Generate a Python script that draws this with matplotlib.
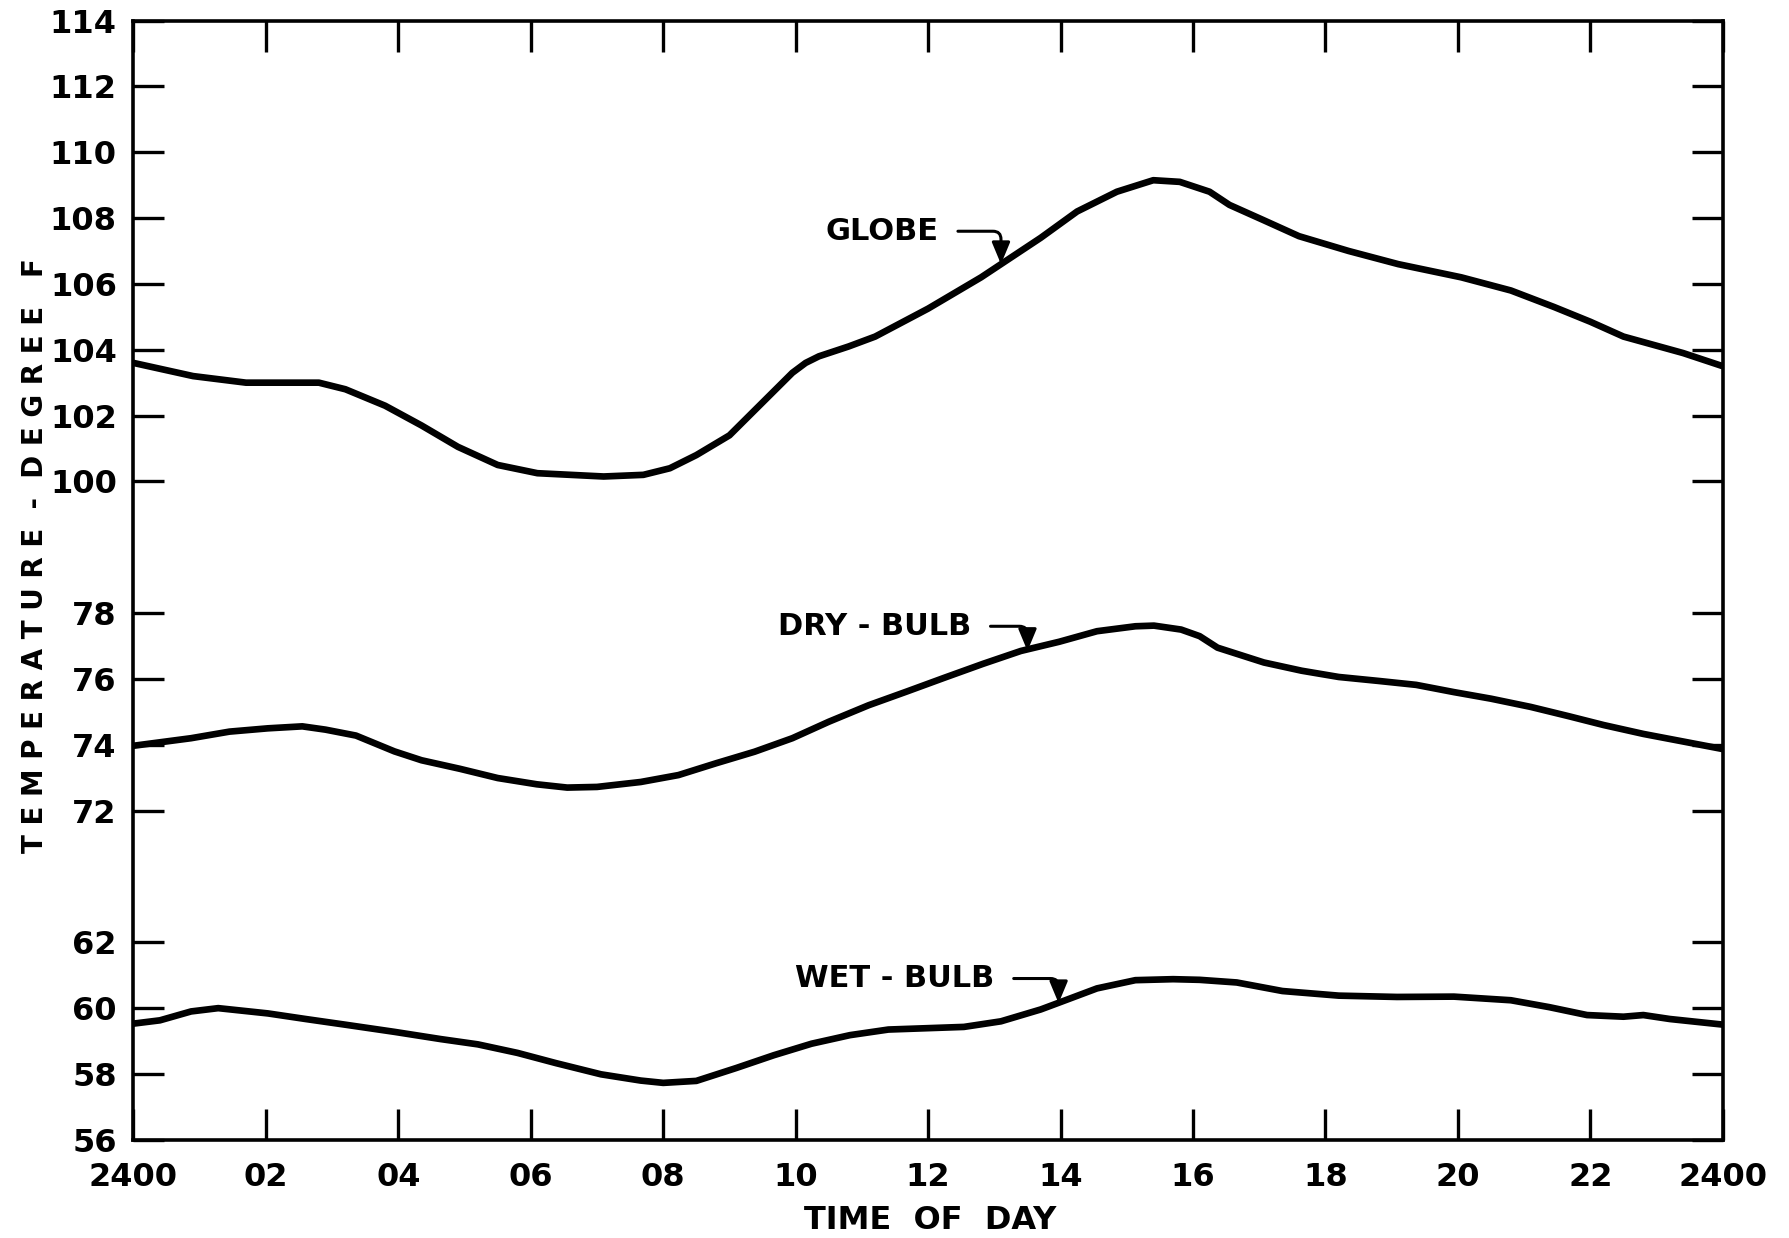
import numpy as np
import matplotlib
matplotlib.use("Agg")
import matplotlib.pyplot as plt

# values (hour of day, degree F)
globe_hr = [0, 0.9, 1.7, 2.8, 3.2, 3.8, 4.35, 4.9, 5.5, 6.1, 7.1, 7.7, 8.1, 8.5, 9.0, 9.25,
            9.5, 9.75, 9.95, 10.15, 10.35, 10.8, 11.2, 12.0, 12.8, 13.1, 13.7, 14.25, 14.85,
            15.4, 15.8, 16.25, 16.55, 17.05, 17.6, 18.35, 19.1, 20.05, 20.8, 21.45, 22.0,
            22.5, 23.4, 24.0]
globe_t = [103.6, 103.2, 103.0, 103.0, 102.8, 102.3, 101.7, 101.05, 100.5, 100.25, 100.15,
           100.2, 100.4, 100.8, 101.4, 101.9, 102.4, 102.9, 103.3, 103.6, 103.8, 104.1, 104.4,
           105.25, 106.2, 106.6, 107.4, 108.2, 108.8, 109.15, 109.1, 108.8, 108.4, 107.95,
           107.45, 107.0, 106.6, 106.2, 105.8, 105.3, 104.85, 104.4, 103.9, 103.5]

dry_hr = [0, 0.87, 1.45, 2.03, 2.55, 2.9, 3.36, 3.94, 4.35, 4.93, 5.5, 6.09, 6.55, 7.0,
          7.66, 8.23, 8.8, 9.38, 9.95, 10.5, 11.1, 11.68, 12.25, 12.83, 13.4, 13.98, 14.55,
          15.13, 15.41, 15.82, 16.1, 16.37, 17.07, 17.64, 18.2, 18.8, 19.37, 19.94, 20.5,
          21.1, 21.67, 22.2, 22.8, 23.4, 24.0]
dry_t = [73.97, 74.2, 74.4, 74.5, 74.56, 74.46, 74.28, 73.8, 73.53, 73.27, 72.99, 72.8,
         72.7, 72.72, 72.87, 73.08, 73.44, 73.79, 74.2, 74.7, 75.2, 75.62, 76.04, 76.46,
         76.85, 77.13, 77.45, 77.6, 77.62, 77.5, 77.3, 76.95, 76.5, 76.25, 76.06, 75.94,
         75.82, 75.6, 75.4, 75.15, 74.87, 74.6, 74.33, 74.1, 73.87]

wet_hr = [0, 0.4, 0.87, 1.28, 2.03, 2.6, 3.19, 3.94, 4.64, 5.2, 5.8, 6.38, 7.06, 7.66, 8.0,
          8.5, 9.1, 9.67, 10.24, 10.82, 11.4, 11.97, 12.54, 13.1, 13.7, 13.98, 14.55, 15.13,
          15.7, 16.1, 16.66, 17.35, 18.2, 19.08, 19.94, 20.8, 21.38, 21.95, 22.5, 22.8,
          23.2, 24.0]
wet_t = [59.53, 59.63, 59.9, 60.0, 59.84, 59.67, 59.5, 59.28, 59.06, 58.9, 58.64, 58.33,
         57.99, 57.8, 57.73, 57.79, 58.18, 58.57, 58.92, 59.18, 59.35, 59.39, 59.43, 59.6,
         59.96, 60.17, 60.6, 60.85, 60.88, 60.86, 60.78, 60.52, 60.38, 60.34, 60.35, 60.24,
         60.03, 59.79, 59.74, 59.79, 59.67, 59.5]

x_ticks = [0, 2, 4, 6, 8, 10, 12, 14, 16, 18, 20, 22, 24]
x_labels = ["2400", "02", "04", "06", "08", "10", "12", "14", "16", "18", "20", "22", "2400"]
wet_ticks = [56, 58, 60, 62]
dry_ticks = [72, 74, 76, 78]
globe_ticks = [100, 102, 104, 106, 108, 110, 112, 114]


# broken y axis: each band gets its own offset on one common scale
def wet_pos(t):
    return (np.asarray(t, float) - 56) / 2.0

def dry_pos(t):
    return (np.asarray(t, float) - 72) / 2.0 + 5

def globe_pos(t):
    return (np.asarray(t, float) - 100) / 2.0 + 10


fig = plt.figure(figsize=(17.89, 12.38), dpi=100)
ax = fig.add_axes([0.0746, 0.0793, 0.8884, 0.9041])

lw = 4.8
for hr, pos in [(globe_hr, globe_pos(globe_t)), (dry_hr, dry_pos(dry_t)), (wet_hr, wet_pos(wet_t))]:
    ax.plot(hr, pos, color="black", lw=lw, solid_joinstyle="round", solid_capstyle="butt")

ax.set_xlim(0, 24)
ax.set_ylim(0, 17)

yt = list(wet_pos(wet_ticks)) + list(dry_pos(dry_ticks)) + list(globe_pos(globe_ticks))
yl = [str(v) for v in wet_ticks + dry_ticks + globe_ticks]
ax.set_yticks(yt)
ax.set_yticklabels(yl)
ax.set_xticks(x_ticks)
ax.set_xticklabels(x_labels)

for s in ax.spines.values():
    s.set_linewidth(2.6)
ax.tick_params(direction="in", length=22, width=2.4, top=True, right=True, labelsize=23)
ax.tick_params(axis="x", pad=16)
ax.tick_params(axis="y", pad=12)
for lab in ax.get_xticklabels() + ax.get_yticklabels():
    lab.set_fontweight("bold")

ax.set_xlabel("TIME  OF  DAY", fontsize=23, fontweight="bold")
ax.xaxis.set_label_coords(0.501, -0.058)
ax.set_ylabel("T E M P E R A T U R E  -  D E G R E E   F", fontsize=20, fontweight="bold")
ax.yaxis.set_label_coords(-0.053, 0.522)

# curve labels with hooked arrows
arrow = dict(arrowstyle="-|>,head_length=0.6,head_width=0.25", color="black", lw=2.2,
             connectionstyle="angle,angleA=0,angleB=90,rad=8", shrinkA=12, shrinkB=0)
ax.annotate("GLOBE", xy=(13.1, globe_pos(106.6)), xytext=(10.45, globe_pos(107.6)),
            fontsize=22, fontweight="bold", va="center", ha="left", arrowprops=arrow)
ax.annotate("DRY - BULB", xy=(13.5, dry_pos(76.85)), xytext=(9.73, dry_pos(77.6)),
            fontsize=22, fontweight="bold", va="center", ha="left", arrowprops=arrow)
ax.annotate("WET - BULB", xy=(13.97, wet_pos(60.15)), xytext=(9.99, wet_pos(60.9)),
            fontsize=22, fontweight="bold", va="center", ha="left", arrowprops=arrow)

fig.savefig("out.png", dpi=100)
